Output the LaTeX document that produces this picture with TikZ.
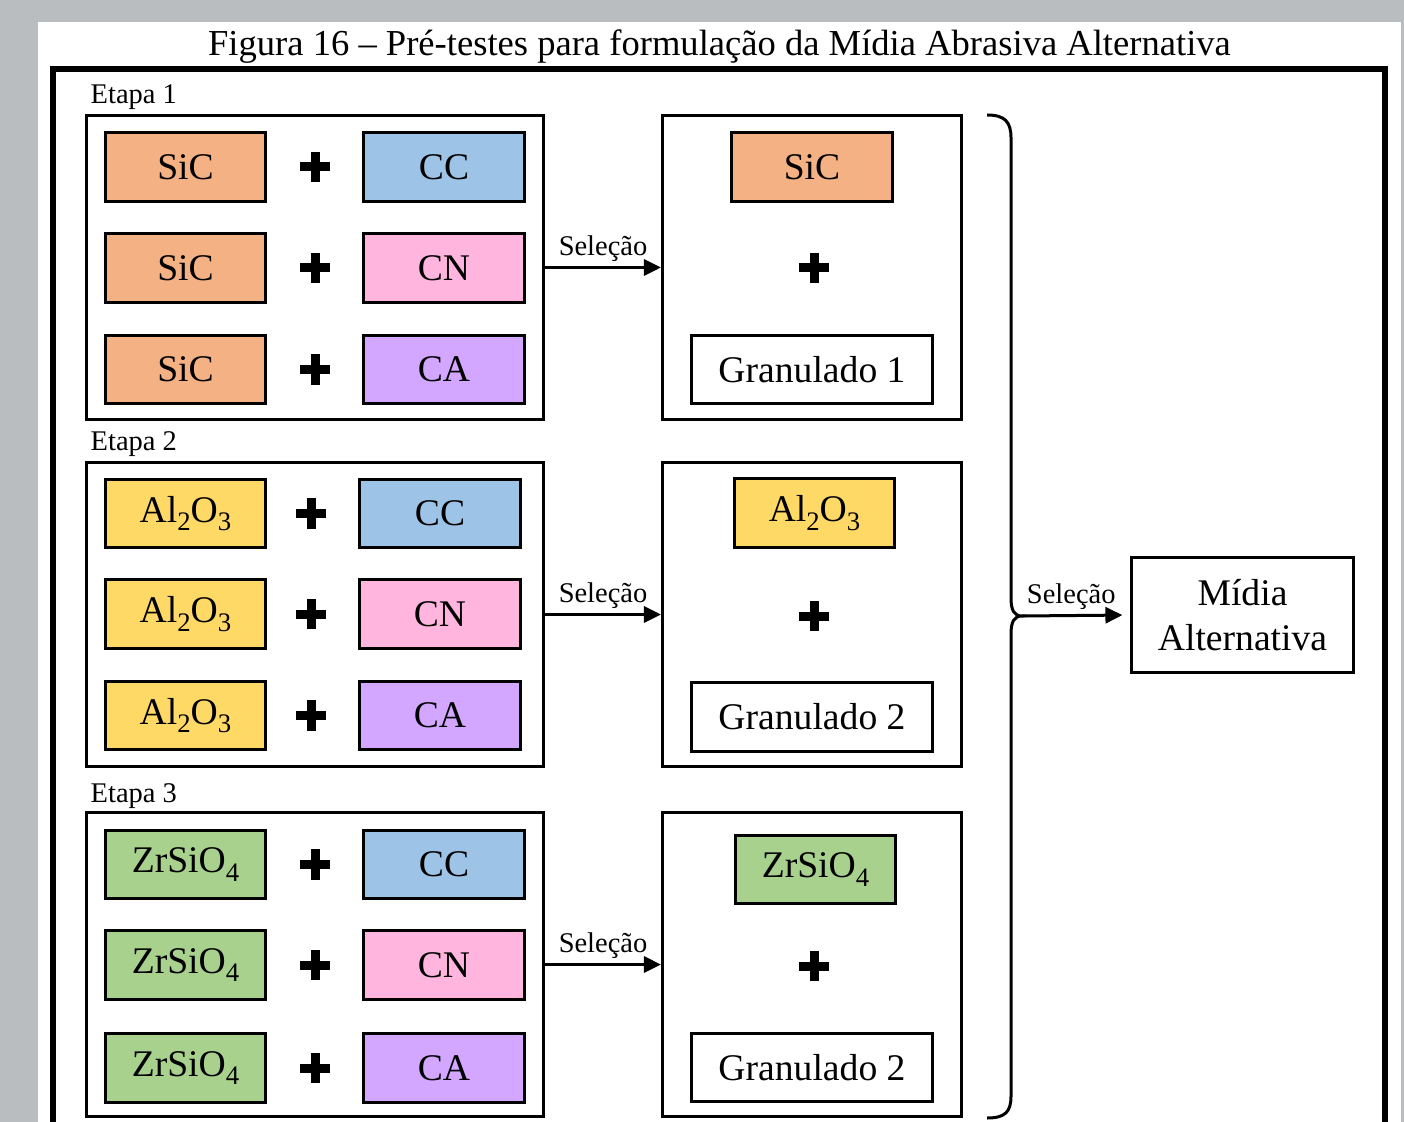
\documentclass[tikz,border=0pt]{standalone}
\usepackage{fontspec}
\setmainfont{Liberation Serif}
\usetikzlibrary{arrows.meta}

\definecolor{sicorange}{HTML}{F4B183}
\definecolor{ccblue}{HTML}{9DC3E6}
\definecolor{cnpink}{HTML}{FFB5DE}
\definecolor{capurple}{HTML}{D3A6FF}
\definecolor{aloyellow}{HTML}{FFD966}
\definecolor{zrgreen}{HTML}{A9D18E}
\definecolor{marble}{HTML}{B9BDC0}

\newcommand\chemsub[1]{\raisebox{-0.5ex}{\fontsize{7.6}{8}\selectfont #1}}

\tikzset{
  mat/.style={draw, line width=0.03cm, minimum width=1.6cm, minimum height=0.68cm, inner sep=0pt, font=\fontsize{10.7}{12}\selectfont},
  stagebox/.style={draw, line width=0.03cm, inner sep=0pt},
  plusmark/.style={minimum size=0.3cm, inner sep=0pt, path picture={
    \fill ([xshift=-0.045cm]path picture bounding box.north) rectangle ([xshift=0.045cm]path picture bounding box.south);
    \fill ([yshift=-0.045cm]path picture bounding box.west) rectangle ([yshift=0.045cm]path picture bounding box.east);}},
  seltext/.style={font=\fontsize{8.1}{9}\selectfont, inner sep=0.04cm},
  etapatext/.style={font=\fontsize{8.1}{9}\selectfont, anchor=base west, inner sep=0pt},
  selarrow/.style={-{Triangle[length=0.17cm, width=0.16cm]}, line width=0.03cm}
}

\begin{document}
\begin{tikzpicture}[x=0.01cm, y=-0.01cm]
\useasboundingbox (0,0) rectangle (1404,1122);
\fill[marble] (0,0) rectangle (1404,1122);
\fill[white] (38,22) rectangle (1401,1122);

\node[font=\fontsize{10.4}{12}\selectfont, anchor=base, inner sep=0pt] (title) at (719.5,56) {Figura 16 -- Pré-testes para formulação da Mídia Abrasiva Alternativa};
\draw[line width=0.055cm] (53,69) rectangle (1385,1145);

% Etapa 1
\node[etapatext] (etapa1txt) at (90,104) {Etapa 1};
\node[stagebox, minimum width=4.57cm, minimum height=3.04cm] (etapa1) at (315,267.5) {};
\node[stagebox, minimum width=2.99cm, minimum height=3.04cm] (sel1) at (812,267.5) {};

\node[mat, fill=sicorange] (sic1a) at (185.5,167) {SiC};
\node[mat, fill=sicorange] (sic1b) at (185.5,268) {SiC};
\node[mat, fill=sicorange] (sic1c) at (185.5,369.5) {SiC};
\node[plusmark] (plus1a) at (315,167) {};
\node[plusmark] (plus1b) at (315,268) {};
\node[plusmark] (plus1c) at (315,369.5) {};
\node[mat, fill=ccblue] (cc1) at (444,167) {CC};
\node[mat, fill=cnpink] (cn1) at (444,268) {CN};
\node[mat, fill=capurple] (ca1) at (444,369.5) {CA};

\node[mat, fill=sicorange] (sic1) at (812,167) {SiC};
\node[plusmark] (plus1) at (814,268) {};
\node[mat, fill=white, minimum width=2.4cm, minimum height=0.67cm] (gran1) at (812,369.5) {Granulado 1};

\draw[selarrow] (etapa1.east) -- node[above, seltext] {Seleção} (sel1.west);

% Etapa 2
\node[etapatext] (etapa2txt) at (90,451) {Etapa 2};
\node[stagebox, minimum width=4.57cm, minimum height=3.04cm] (etapa2) at (315,614.5) {};
\node[stagebox, minimum width=2.99cm, minimum height=3.04cm] (sel2) at (812,614.5) {};

\node[mat, fill=aloyellow] (alo2a) at (185.5,513.5) {Al\chemsub{2}O\chemsub{3}};
\node[mat, fill=aloyellow] (alo2b) at (185.5,614) {Al\chemsub{2}O\chemsub{3}};
\node[mat, fill=aloyellow] (alo2c) at (185.5,715.5) {Al\chemsub{2}O\chemsub{3}};
\node[plusmark] (plus2a) at (311,513.5) {};
\node[plusmark] (plus2b) at (311,614) {};
\node[plusmark] (plus2c) at (311,715.5) {};
\node[mat, fill=ccblue] (cc2) at (440,513.5) {CC};
\node[mat, fill=cnpink] (cn2) at (440,614) {CN};
\node[mat, fill=capurple] (ca2) at (440,715.5) {CA};

\node[mat, fill=aloyellow] (alo2) at (814.5,513) {Al\chemsub{2}O\chemsub{3}};
\node[plusmark] (plus2) at (814,616) {};
\node[mat, fill=white, minimum width=2.4cm, minimum height=0.68cm] (gran2) at (812,717) {Granulado 2};

\draw[selarrow] (etapa2.east) -- node[above, seltext] {Seleção} (sel2.west);

% Etapa 3
\node[etapatext] (etapa3txt) at (90,802) {Etapa 3};
\node[stagebox, minimum width=4.57cm, minimum height=3.04cm] (etapa3) at (315,964.5) {};
\node[stagebox, minimum width=2.99cm, minimum height=3.04cm] (sel3) at (812,964.5) {};

\node[mat, fill=zrgreen] (zr3a) at (185.5,864.5) {ZrSiO\chemsub{4}};
\node[mat, fill=zrgreen] (zr3b) at (185.5,965) {ZrSiO\chemsub{4}};
\node[mat, fill=zrgreen] (zr3c) at (185.5,1068) {ZrSiO\chemsub{4}};
\node[plusmark] (plus3a) at (315,864.5) {};
\node[plusmark] (plus3b) at (315,965) {};
\node[plusmark] (plus3c) at (315,1068) {};
\node[mat, fill=ccblue] (cc3) at (444,864.5) {CC};
\node[mat, fill=cnpink] (cn3) at (444,965) {CN};
\node[mat, fill=capurple] (ca3) at (444,1068) {CA};

\node[mat, fill=zrgreen] (zr3) at (815.5,869.5) {ZrSiO\chemsub{4}};
\node[plusmark] (plus3) at (814,966) {};
\node[mat, fill=white, minimum width=2.4cm, minimum height=0.67cm] (gran3) at (812,1067.5) {Granulado 2};

\draw[selarrow] (etapa3.east) -- node[above, seltext] {Seleção} (sel3.west);

% chave e resultado final
\draw[line width=0.03cm] (987,115) .. controls (1005,115) and (1011,122) .. (1011,138) -- (1011,598) .. controls (1011,610) and (1014,616) .. (1022,616) .. controls (1014,616) and (1011,622) .. (1011,634) -- (1011,1096) .. controls (1011,1112) and (1005,1118) .. (987,1118);
\coordinate (bracetip) at (1022,616);
\node[draw, line width=0.03cm, minimum width=2.21cm, minimum height=1.14cm, align=center, font=\fontsize{10.7}{13}\selectfont] (midia) at (1242.5,615) {Mídia\\Alternativa};
\draw[selarrow, shorten >=0.08cm] (bracetip) -- node[above, seltext, xshift=-0.05cm] {Seleção} (midia.west);
\end{tikzpicture}
\end{document}
